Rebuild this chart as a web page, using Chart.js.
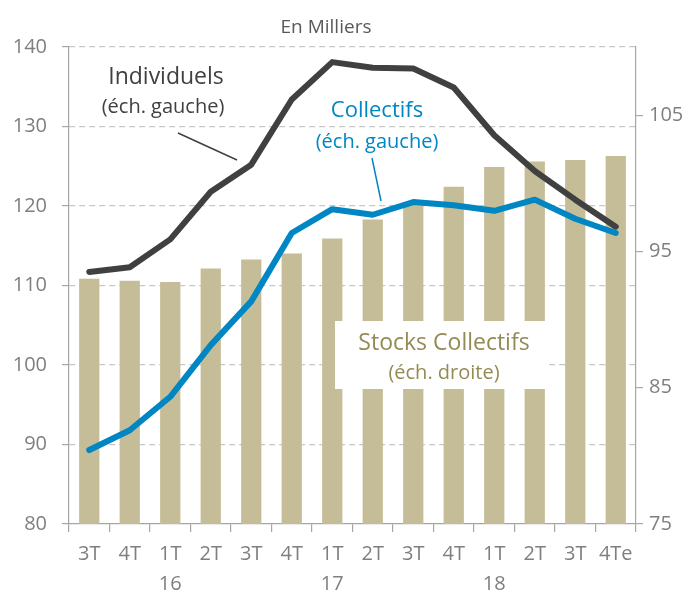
<!DOCTYPE html>
<html>
<head>
<meta charset="utf-8">
<script src="https://cdn.jsdelivr.net/npm/chart.js@4.4.0/dist/chart.umd.min.js"></script>
<style>
html,body{margin:0;padding:0;background:#fff;}
#wrap{width:694px;height:592px;position:relative;}
</style>
</head>
<body>
<div id="wrap"><canvas id="c" width="694" height="592"></canvas></div>
<script>
// ---- Data ----
const categories = ['3T','4T',['1T','16'],'2T','3T','4T',['1T','17'],'2T','3T','4T',['1T','18'],'2T','3T','4Te'];
const individuels = [111.7,112.3,115.8,121.8,125.2,133.4,138.1,137.4,137.3,134.9,128.9,124.4,120.8,117.4];
const collectifs  = [89.3,91.8,96.0,102.5,108.0,116.6,119.6,118.9,120.5,120.1,119.4,120.8,118.4,116.6];
const stocksCollectifs = [93.0,92.85,92.75,93.75,94.4,94.85,95.95,97.35,98.6,99.75,101.2,101.6,101.7,102.0];
const leftTicks  = [80,90,100,110,120,130,140];
const rightTicks = [75,85,95,105];
const titleText = 'En Milliers';

const FONT = "'Open Sans', 'Noto Sans', sans-serif";
Chart.defaults.font.family = FONT;

const annotations = {
  id: 'annotations',
  afterDatasetsDraw(chart) {
    const ctx = chart.ctx;
    ctx.save();
    // leader lines
    ctx.lineWidth = 1.5;
    ctx.strokeStyle = '#404040';
    ctx.beginPath(); ctx.moveTo(178,133); ctx.lineTo(237,160); ctx.stroke();
    ctx.strokeStyle = '#0086C3';
    ctx.beginPath(); ctx.moveTo(372,158); ctx.lineTo(381,201); ctx.stroke();
    // white box
    ctx.fillStyle = '#ffffff';
    ctx.fillRect(335,321,210,68);
    ctx.textAlign = 'center';
    ctx.textBaseline = 'middle';
    ctx.fillStyle = '#948A54';
    ctx.font = '23px ' + FONT;
    ctx.fillText('Stocks Collectifs', 444, 343);
    ctx.font = '20px ' + FONT;
    ctx.fillText('(éch. droite)', 444, 373);
    // Individuels
    ctx.fillStyle = '#404040';
    ctx.font = '23px ' + FONT;
    ctx.fillText('Individuels', 166, 77);
    ctx.font = '20px ' + FONT;
    ctx.fillText('(éch. gauche)', 163, 107);
    // Collectifs
    ctx.fillStyle = '#0086C3';
    ctx.font = '22px ' + FONT;
    ctx.fillText('Collectifs', 377, 111);
    ctx.font = '20px ' + FONT;
    ctx.fillText('(éch. gauche)', 377, 142);
    // title
    ctx.fillStyle = '#595959';
    ctx.font = '19px ' + FONT;
    ctx.fillText(titleText, 326, 28);
    ctx.restore();
  }
};

new Chart(document.getElementById('c'), {
  data: {
    labels: categories,
    datasets: [
      { type:'line', label:'Collectifs', data: collectifs, yAxisID:'yL',
        borderColor:'#0086C3', borderWidth:6, pointRadius:0, tension:0,
        borderCapStyle:'round', borderJoinStyle:'round', order:0 },
      { type:'line', label:'Individuels', data: individuels, yAxisID:'yL',
        borderColor:'#404040', borderWidth:6, pointRadius:0, tension:0,
        borderCapStyle:'round', borderJoinStyle:'round', order:1 },
      { type:'bar', label:'Stocks Collectifs', data: stocksCollectifs, yAxisID:'yR',
        backgroundColor:'#C4BD97', barPercentage:0.5, categoryPercentage:1.0, order:2 }
    ]
  },
  options: {
    responsive:false,
    animation:false,
    devicePixelRatio:1,
    layout:{ padding:{ top:47, left:0, right:0, bottom:0 } },
    plugins:{ legend:{display:false}, tooltip:{enabled:false}, title:{display:false} },
    scales:{
      x:{
        offset:true,
        grid:{ offset:true, drawOnChartArea:false, drawTicks:true, tickLength:8, color:'#a6a6a6', lineWidth:1.2 },
        border:{ color:'#a6a6a6', width:1.2 },
        ticks:{ color:'#7f7f7f', font:{size:20, lineHeight:1.5}, padding:7, maxRotation:0, autoSkip:false },
        afterFit(s){ s.height = 68; }
      },
      yL:{
        position:'left', min:80, max:140,
        afterBuildTicks(s){ s.ticks = leftTicks.map(v=>({value:v})); },
        grid:{ color:(c)=> c.tick && c.tick.value===80 ? 'rgba(0,0,0,0)' : '#c8c8c8', lineWidth:1.2,
               drawTicks:true, tickLength:7, tickColor:'#a6a6a6', tickWidth:1.2 },
        border:{ color:'#a6a6a6', width:1.2, dash:[6,4] },
        ticks:{ color:'#7f7f7f', font:{size:20}, padding:15 },
        afterFit(s){ s.width = 69; }
      },
      yR:{
        position:'right', min:75, max:110,
        afterBuildTicks(s){ s.ticks = rightTicks.map(v=>({value:v})); },
        grid:{ drawOnChartArea:false, drawTicks:true, tickLength:7, color:'#a6a6a6', lineWidth:1.2 },
        border:{ color:'#a6a6a6', width:1.2 },
        ticks:{ color:'#7f7f7f', font:{size:20}, padding:6 },
        afterFit(s){ s.width = 58; }
      }
    }
  },
  plugins:[annotations]
});
</script>
</body>
</html>
